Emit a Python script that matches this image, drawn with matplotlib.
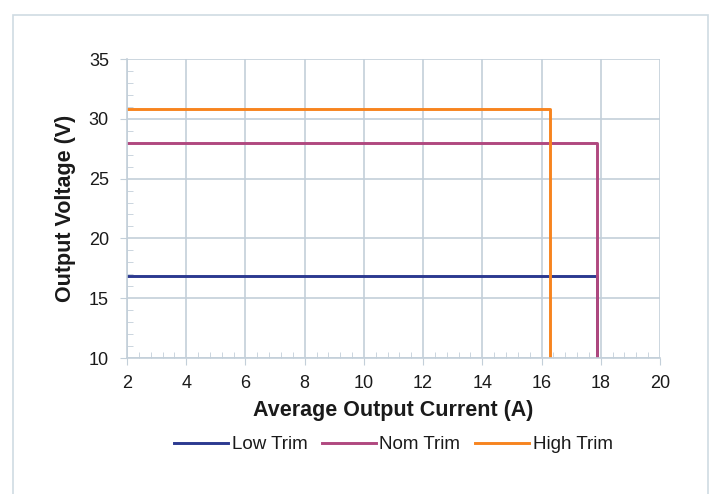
import matplotlib.pyplot as plt
from matplotlib.ticker import MultipleLocator
from matplotlib.patches import Rectangle

plt.rcParams['font.family'] = ['Liberation Sans', 'DejaVu Sans']

# step curves: flat output voltage then drop at current limit
low_x = [2, 17.88, 17.88]
low_y = [16.85, 16.85, 10]
nom_x = [2, 17.88, 17.88]
nom_y = [28.0, 28.0, 10]
high_x = [2, 16.27, 16.27]
high_y = [30.8, 30.8, 10]

grid_col = "#c3cfd9"

fig = plt.figure(figsize=(7.09, 4.94), dpi=100)
fig.patches.append(Rectangle((12.5 / 709, -10 / 494), 695 / 709, 489 / 494,
                             transform=fig.transFigure, fill=False,
                             edgecolor="#cfdbe3", linewidth=1.2))
ax = fig.add_axes([127 / 709, 136 / 494, 533 / 709, 299 / 494])

ax.plot(low_x, low_y, color="#2b3990", lw=2.1, label="Low Trim")
ax.plot(nom_x, nom_y, color="#b0487f", lw=2.1, label="Nom Trim")
ax.plot(high_x, high_y, color="#f7841f", lw=2.1, label="High Trim")

ax.set_xlim(2, 20)
ax.set_ylim(10, 35)
ax.xaxis.set_major_locator(MultipleLocator(2))
ax.xaxis.set_minor_locator(MultipleLocator(0.4))
ax.yaxis.set_major_locator(MultipleLocator(5))
ax.yaxis.set_minor_locator(MultipleLocator(1))
ax.grid(True, which="major", color=grid_col, lw=1.2)
ax.set_axisbelow(True)
for s in ["top", "right"]:
    ax.spines[s].set_visible(False)
for s in ["left", "bottom"]:
    ax.spines[s].set_color(grid_col)
    ax.spines[s].set_linewidth(1.2)
ax.tick_params(which="major", direction="out", length=5, color=grid_col,
               labelsize=13, labelcolor="#1a1a1a")
ax.tick_params(axis="x", which="major", pad=7)
ax.tick_params(axis="y", which="major", pad=8)
ax.tick_params(which="minor", direction="in", length=4, color=grid_col)

ax.set_xlabel("Average Output Current (A)", fontsize=15.5, fontweight="bold",
              labelpad=6, color="#1a1a1a")
ax.set_ylabel("Output Voltage (V)", fontsize=15.5, fontweight="bold",
              labelpad=9, color="#1a1a1a")

ax.legend(loc="center", bbox_to_anchor=(0.5, -0.29), ncol=3, frameon=False,
          fontsize=13.5, handlelength=2.85, columnspacing=0.8, handletextpad=0.2,
          labelcolor="#1a1a1a")

fig.savefig("out.png", dpi=100)
